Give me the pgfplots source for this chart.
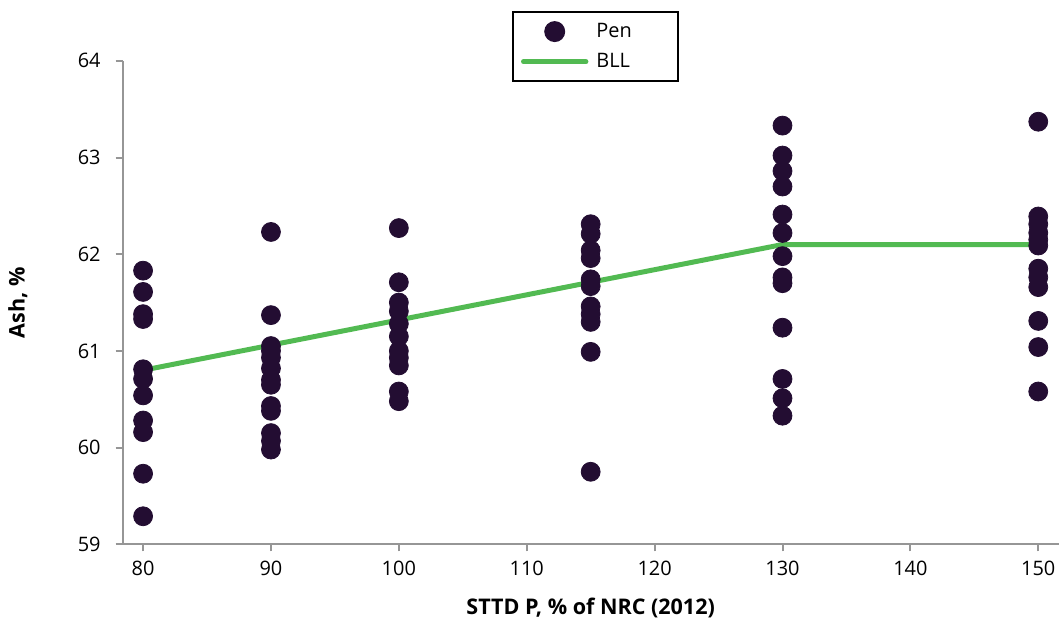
\documentclass[border=0pt]{standalone}
\usepackage{fontspec}
\setmainfont{Open Sans}
\usepackage{pgfplots}
\pgfplotsset{compat=1.18}
\usetikzlibrary{calc}
\definecolor{dot}{RGB}{35,13,50}
\definecolor{bll}{RGB}{82,186,82}
\definecolor{axg}{RGB}{150,150,150}
\pgfplotsset{
  penlegend/.style={legend image code/.code={\path[draw=none] (0cm,0cm) -- (1.1cm,0cm); \path[draw=none] plot[mark=*, mark size=4.75pt, mark options={draw=dot, fill=dot}] coordinates {(0.55cm,0cm)};}},
  linelegend/.style={legend image code/.code={\draw[##1] (0cm,0cm) -- (1.1cm,0cm);}},
}
\pgfplotstableread{
x y
80 61.83
80 61.61
80 61.38
80 61.33
80 60.81
80 60.71
80 60.54
80 60.28
80 60.16
80 59.73
80 59.29
90 62.23
90 61.37
90 61.05
90 61.00
90 60.93
90 60.82
90 60.70
90 60.65
90 60.43
90 60.38
90 60.15
90 60.07
90 59.98
100 62.27
100 61.71
100 61.50
100 61.41
100 61.28
100 61.15
100 61.00
100 60.93
100 60.85
100 60.58
100 60.48
115 62.31
115 62.21
115 62.04
115 61.96
115 61.74
115 61.67
115 61.46
115 61.38
115 61.30
115 60.99
115 59.75
130 63.33
130 63.02
130 62.86
130 62.70
130 62.41
130 62.22
130 61.98
130 61.76
130 61.70
130 61.24
130 60.71
130 60.51
130 60.33
150 63.37
150 62.39
150 62.31
150 62.22
150 62.15
150 62.09
150 61.85
150 61.76
150 61.66
150 61.31
150 61.04
150 60.58
}\pendata
\pgfplotstableread{
x y
80 60.80
130 62.10
150 62.10
}\blldata
\begin{document}
\begin{tikzpicture}
\begin{axis}[
  scale only axis, width=469.5pt, height=242.5pt,
  xmin=78.4, xmax=151.6, ymin=59, ymax=64,
  axis x line*=bottom, axis y line*=left,
  axis line style={axg, line width=1pt, -},
  xtick={80,90,...,150}, ytick={59,60,...,64},
  tick align=outside, major tick length=3.5pt,
  tick style={axg, line width=1pt},
  tick label style={font=\fontsize{10}{11}\selectfont, black},
  /pgf/number format/assume math mode=true,
  xticklabel style={yshift=-1.5pt},
  yticklabel style={xshift=-4pt},
  xlabel={\textbf{STTD P, \% of NRC (2012)}},
  ylabel={\textbf{Ash, \%}},
  x label style={at={(axis description cs:0.5,0)}, anchor=center, yshift=-32pt, font=\fontsize{10.8}{11}\selectfont},
  y label style={at={(axis description cs:0,0.5)}, anchor=center, yshift=52.5pt, font=\fontsize{10.8}{11}\selectfont},
  legend style={at={(0.505,1.103)}, anchor=north, draw=black, line width=1pt,
    font=\fontsize{10}{15.5}\selectfont, inner xsep=4pt, inner ysep=3.5pt,
    row sep=2.5pt, column sep=2pt},
  legend cell align=left,
  clip=false,
]
\addplot[only marks, mark=*, mark size=4.75pt, mark options={draw=dot, fill=dot}, penlegend]
  table[x=x, y=y] {\pendata};
\addlegendentry{Pen\rule{17pt}{0pt}}
\addplot[bll, line width=2.5pt, line cap=round, linelegend]
  table[x=x, y=y] {\blldata};
\addlegendentry{BLL\rule{17pt}{0pt}}
\end{axis}
\path[draw=none] ($(current axis.south west)+(-61.5pt,-37.5pt)$) rectangle ($(current axis.north east)+(0,30.5pt)$);
\end{tikzpicture}
\end{document}
